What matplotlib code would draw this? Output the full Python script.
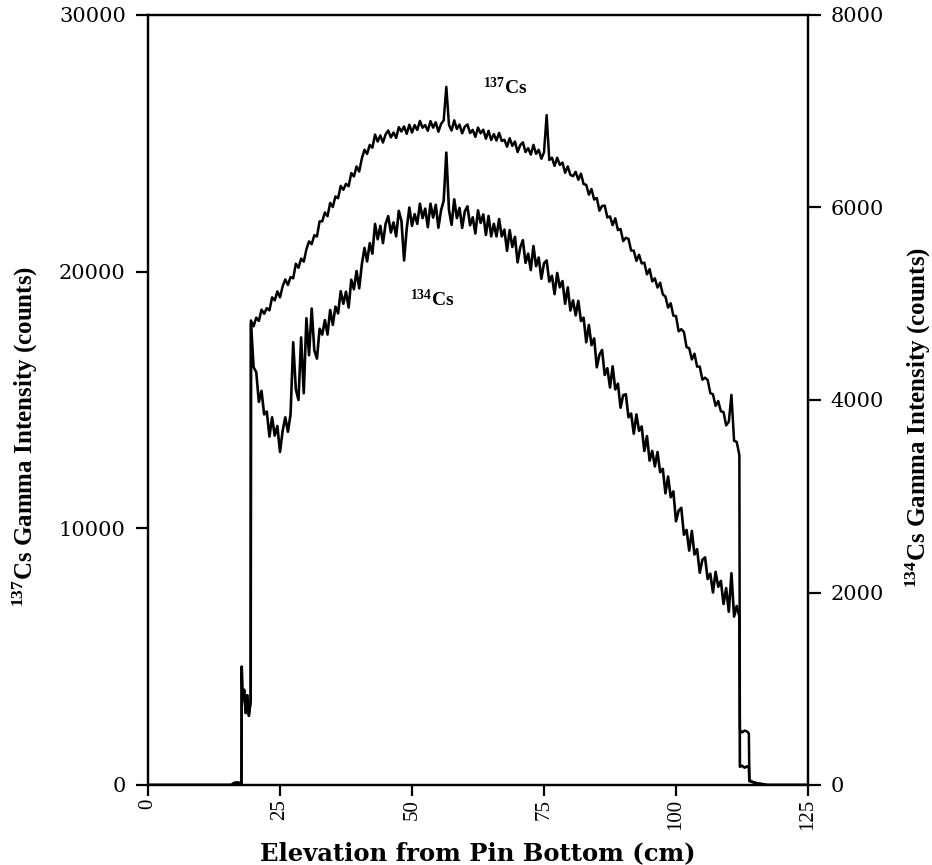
import numpy as np
import matplotlib
matplotlib.use("Agg")
import matplotlib.pyplot as plt

plt.rcParams['mathtext.fontset'] = 'custom'
plt.rcParams['mathtext.rm'] = 'Liberation Serif:bold'
plt.rcParams['mathtext.it'] = 'Liberation Serif:bold'
plt.rcParams['mathtext.bf'] = 'Liberation Serif:bold'

# scan channels inside the fuel column, 0.5 cm apart (19.5 ... 112.0 cm)
elevation = np.arange(19.5, 112.01, 0.5)

# 137Cs counts (left axis), one value per channel
cs137_core = [
    18100, 17870, 18210, 18080, 18520, 18360, 18580, 18490, 19000, 18880,
    19230, 19000, 19430, 19700, 19480, 19790, 19740, 20310, 20150, 20510,
    20390, 20870, 21180, 21070, 21420, 21370, 21960, 21960, 22310, 22160,
    22680, 22520, 22930, 22860, 23340, 23190, 23420, 23330, 23840, 23710,
    24100, 23900, 24410, 24750, 24590, 24940, 24830, 25340, 25070, 25310,
    25030, 25350, 25500, 25230, 25420, 25210, 25630, 25460, 25660, 25370,
    25730, 25420, 25710, 25520, 25875, 25610, 25710, 25490, 25865, 25610,
    25820, 25450, 25755, 25890, 27200, 25720, 25500, 25895, 25560, 25730,
    25390, 25650, 25735, 25400, 25525, 25250, 25615, 25390, 25530, 25180,
    25490, 25130, 25360, 25110, 25410, 25090, 25140, 24870, 25200, 24900,
    25070, 24660, 24930, 25040, 24660, 24810, 24560, 24940, 24590, 24750,
    24400, 24650, 26100, 24350, 24440, 24120, 24440, 24160, 24250, 23850,
    24100, 23770, 23720, 23890, 23580, 23820, 23415, 23380, 23000, 23220,
    22810, 22870, 22375, 22560, 22575, 22110, 22155, 21810, 22080, 21620,
    21660, 21190, 21320, 21280, 20820, 20820, 20420, 20660, 20320, 20350,
    19895, 20100, 19620, 19740, 19380, 19570, 19115, 19030, 18600, 18770,
    18285, 18270, 17675, 17760, 17650, 17060, 17015, 16580, 16805, 16300,
    16300, 15790, 15870, 15780, 15270, 15220, 14770, 14960, 14560, 14530,
    14010, 14150, 15200, 13410, 13370, 12850,
]

# 134Cs counts (right axis), same channels
cs134_core = [
    4800, 4340, 4290, 3980, 4095, 3850, 3880, 3620, 3820, 3630,
    3730, 3460, 3680, 3820, 3670, 3850, 4600, 4110, 4000, 4650,
    4070, 4850, 4465, 4950, 4515, 4430, 4740, 4680, 4830, 4680,
    4935, 4780, 4970, 4900, 5130, 5000, 5125, 4960, 5250, 5150,
    5340, 5160, 5410, 5580, 5440, 5630, 5520, 5830, 5670, 5810,
    5630, 5830, 5910, 5740, 5845, 5700, 5965, 5860, 5450, 5780,
    6000, 5810, 5930, 5830, 6040, 5890, 5988, 5795, 6040, 5895,
    6028, 5790, 5970, 6070, 6570, 5975, 5820, 6085, 5890, 5995,
    5788, 5960, 6012, 5815, 5898, 5730, 5970, 5840, 5928, 5715,
    5912, 5700, 5830, 5700, 5880, 5700, 5770, 5550, 5765, 5590,
    5695, 5430, 5585, 5660, 5425, 5520, 5350, 5600, 5390, 5480,
    5260, 5420, 5450, 5230, 5290, 5100, 5320, 5170, 5235, 5000,
    5170, 4930, 5035, 4880, 5030, 4820, 4855, 4600, 4780, 4570,
    4640, 4340, 4470, 4520, 4260, 4330, 4130, 4350, 4110, 4170,
    3920, 4050, 4060, 3820, 3860, 3650, 3850, 3680, 3725, 3470,
    3625, 3370, 3470, 3310, 3460, 3250, 3285, 3030, 3205, 2990,
    3050, 2740, 2850, 2880, 2600, 2650, 2435, 2640, 2395, 2450,
    2205, 2340, 2365, 2140, 2195, 2000, 2215, 2060, 2120, 1880,
    2045, 1800, 2200, 1750, 1860, 1750,
]

# pin ends (below and above the fuel column)
bottom_x = [0.0, 15.8, 16.3, 17.0, 17.7, 17.75, 17.9, 18.2, 18.5, 18.8, 19.1, 19.45]
cs137_bottom = [0, 0, 80, 100, 60, 4600, 3300, 3700, 2800, 3500, 2700, 3300]
cs134_bottom = [0, 0, 20, 25, 15, 1230, 880, 990, 750, 930, 720, 880]

top_x = [112.1, 112.5, 113.0, 113.5, 113.8, 113.9, 114.5, 115.5, 116.5, 117.2, 125.0]
cs137_top = [2150, 2050, 2120, 2080, 2000, 200, 120, 60, 30, 0, 0]
cs134_top = [190, 200, 180, 195, 180, 40, 30, 15, 8, 0, 0]

x_all = np.concatenate([bottom_x, elevation, top_x])
cs137 = np.concatenate([cs137_bottom, cs137_core, cs137_top])
cs134 = np.concatenate([cs134_bottom, cs134_core, cs134_top])

fig = plt.figure(figsize=(9.32, 8.65), dpi=100)
ax = fig.add_axes([148 / 932, 80 / 865, 660 / 932, 770 / 865])
ax2 = ax.twinx()

ax.plot(x_all, cs137, color='black', lw=1.8)
ax2.plot(x_all, cs134, color='black', lw=1.9)

ax.set_xlim(0, 125)
ax.set_ylim(0, 30000)
ax2.set_ylim(0, 8000)
ax.set_xticks([0, 25, 50, 75, 100, 125])
ax.set_yticks([0, 10000, 20000, 30000])
ax2.set_yticks([0, 2000, 4000, 6000, 8000])

for a in (ax, ax2):
    for s in a.spines.values():
        s.set_linewidth(1.6)

ax.tick_params(axis='y', direction='out', length=9, width=1.6, pad=7)
ax.tick_params(axis='x', direction='out', length=8, width=1.6, pad=2,
               labelrotation=90)
ax2.tick_params(axis='y', direction='out', length=9, width=1.6, pad=7)

for lab in ax.get_yticklabels() + ax2.get_yticklabels():
    lab.set_fontfamily('DejaVu Serif')
    lab.set_fontsize(15)
for lab in ax.get_xticklabels():
    lab.set_fontfamily('Liberation Serif')
    lab.set_fontsize(15)

ax.set_xlabel('Elevation from Pin Bottom (cm)', family='DejaVu Serif',
              fontweight='bold', fontsize=17.5)
ax.xaxis.set_label_coords(0.5, -0.088)
ax.xaxis.label.set_va('center')

ax.set_ylabel(r'$^{137}$Cs Gamma Intensity (counts)', family='Liberation Serif',
              fontweight='bold', fontsize=18)
ax.yaxis.set_label_coords(-0.185, 0.453)
ax.yaxis.label.set_va('center')

ax2.set_ylabel(r'$^{134}$Cs Gamma Intensity (counts)', family='Liberation Serif',
               fontweight='bold', fontsize=18, rotation=90)
ax2.yaxis.set_label_coords(1.167, 0.477)
ax2.yaxis.label.set_va('center')

ax.text(67.6, 27160, r'$^{137}$Cs', family='Liberation Serif', fontweight='bold',
        fontsize=14, ha='center', va='center')
ax.text(53.8, 18900, r'$^{134}$Cs', family='Liberation Serif', fontweight='bold',
        fontsize=14, ha='center', va='center')

fig.savefig('out.png', dpi=100)
